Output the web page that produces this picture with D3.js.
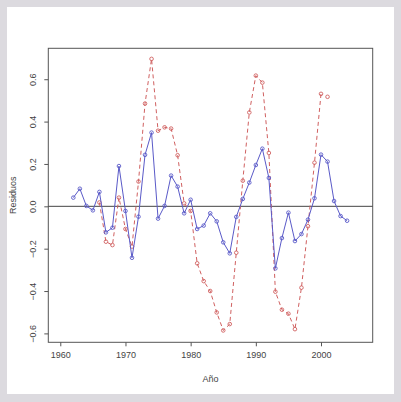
<!DOCTYPE html>
<html><head><meta charset="utf-8">
<script src="https://cdn.jsdelivr.net/npm/d3@7"></script>
<style>
html,body{margin:0;padding:0;background:#dcdadf;}
svg{display:block;}
</style></head>
<body>
<script>
const years = d3.range(1962, 2005);
const blueValues = [0.041,0.083,0.002,-0.019,0.068,-0.123,-0.101,0.19,-0.022,-0.243,
  -0.049,0.243,0.348,-0.058,0.002,0.145,0.093,-0.033,0.031,-0.107,
  -0.091,-0.033,-0.071,-0.17,-0.222,-0.05,0.035,0.112,0.195,0.272,
  0.134,-0.293,-0.15,-0.03,-0.164,-0.131,-0.063,0.038,0.244,0.211,
  0.025,-0.046,-0.068];
const redYears = d3.range(1966, 2002);
const redValues = [0.018,-0.167,-0.183,0.041,-0.107,-0.19,0.117,0.485,0.696,0.357,
  0.373,0.367,0.241,0.014,-0.022,-0.269,-0.353,-0.4,-0.501,-0.586,
  -0.556,-0.219,0.121,0.443,0.617,0.584,0.252,-0.403,-0.488,-0.507,
  -0.58,-0.384,-0.094,0.206,0.531,0.517];
const xTicks = [1960,1970,1980,1990,2000];
const yTicks = [-0.6,-0.4,-0.2,0.0,0.2,0.4,0.6];

const W = 401, H = 402;
const pL = 48.3, pR = 372.7, pT = 48.3, pB = 342.3;
const x = d3.scaleLinear().domain([1958.16, 2007.93]).range([pL, pR]);
const y = d3.scaleLinear().domain([-0.642, 0.746]).range([pB, pT]);

const svg = d3.select("body").append("svg").attr("width", W).attr("height", H);
svg.append("rect").attr("x",0).attr("y",0).attr("width",W).attr("height",H).attr("fill","#dcdadf");
svg.append("rect").attr("x",7).attr("y",7).attr("width",387).attr("height",387).attr("fill","#ffffff");

const axisColor = "#555";
const font = "Liberation Sans, Arial, sans-serif";

// box
svg.append("rect").attr("x",pL).attr("y",pT).attr("width",pR-pL).attr("height",pB-pT)
  .attr("fill","none").attr("stroke",axisColor).attr("stroke-width",1);

// x axis
const xAxis = d3.axisBottom(x).tickValues(xTicks).tickSize(4).tickPadding(5).tickFormat(d3.format("d"));
const gx = svg.append("g").attr("transform",`translate(0,${pB})`).call(xAxis);
gx.select(".domain").remove();
gx.selectAll("line").attr("stroke",axisColor);
gx.selectAll("text").attr("fill","#444").style("font-family",font).style("font-size","9px");

// y axis
const yAxis = d3.axisLeft(y).tickValues(yTicks).tickSize(4).tickFormat(d3.format(".1f"));
const gy = svg.append("g").attr("transform",`translate(${pL},0)`).call(yAxis);
gy.select(".domain").remove();
gy.selectAll("line").attr("stroke",axisColor);
gy.selectAll("text").attr("fill","#444").style("font-family",font).style("font-size","9px")
  .attr("text-anchor","middle").attr("x",0).attr("y",0).attr("dy","0.32em")
  .attr("transform", `translate(${33-pL},0) rotate(-90)`);

// axis titles
svg.append("text").attr("x",(pL+pR)/2).attr("y",382).attr("text-anchor","middle")
  .attr("fill","#444").style("font-family",font).style("font-size","9px").text("Año");
svg.append("text").attr("transform",`translate(16,${(pT+pB)/2}) rotate(-90)`).attr("text-anchor","middle")
  .attr("fill","#444").style("font-family",font).style("font-size","9px").text("Residuos");

// zero line
svg.append("line").attr("x1",pL).attr("x2",pR).attr("y1",y(0)).attr("y2",y(0))
  .attr("stroke","#444").attr("stroke-width",1);

const blue = "#5a5ac8", red = "#d06060";
const blueData = years.map((yr,i)=>({x:yr,y:blueValues[i]}));
const redData = redYears.map((yr,i)=>({x:yr,y:redValues[i]}));
const line = d3.line().x(d=>x(d.x)).y(d=>y(d.y));

// red dashed: not connecting the last two points
svg.append("path").datum(redData.slice(0, redData.length-1)).attr("d",line)
  .attr("fill","none").attr("stroke",red).attr("stroke-width",1).attr("stroke-dasharray","4,3");
svg.selectAll(".rp").data(redData).enter().append("circle")
  .attr("cx",d=>x(d.x)).attr("cy",d=>y(d.y)).attr("r",1.8)
  .attr("fill","none").attr("stroke",red).attr("stroke-width",0.9);

svg.append("path").datum(blueData).attr("d",line)
  .attr("fill","none").attr("stroke",blue).attr("stroke-width",1);
svg.selectAll(".bp").data(blueData).enter().append("circle")
  .attr("cx",d=>x(d.x)).attr("cy",d=>y(d.y)).attr("r",1.8)
  .attr("fill","none").attr("stroke",blue).attr("stroke-width",0.9);
</script>
</body></html>
